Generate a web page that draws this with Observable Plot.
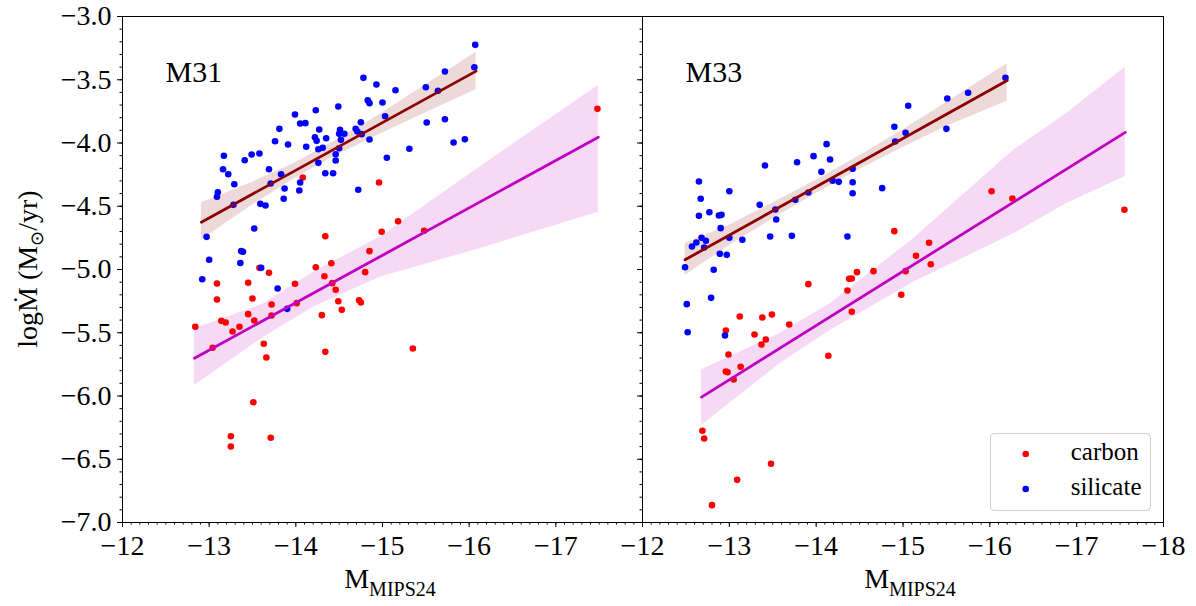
<!DOCTYPE html>
<html>
<head>
<meta charset="utf-8">
<script src="https://cdn.jsdelivr.net/npm/d3@7"></script>
<script src="https://cdn.jsdelivr.net/npm/@observablehq/plot@0.6"></script>
<style>
  body { margin: 0; background: #fff; }
  #chart { position: relative; width: 1196px; height: 606px; }
  #chart svg { position: absolute; left: 0; top: 0; overflow: visible; }
  #chart svg text { font-family: "Liberation Serif", "Times New Roman", serif !important; }
</style>
</head>
<body>
<div id="chart"></div>
<script>
// Mass-loss rate vs. MIPS 24 µm absolute magnitude, [M_MIPS24, log Mdot]
const m31Carbon = [
  [-14.08,-4.273],[-14.96,-4.312],[-14.34,-4.737],[-14.85,-4.855],[-14.41,-4.950],[-14.23,-4.982],
  [-17.48,-3.730],[-15.18,-4.618],[-14.99,-4.702],[-15.48,-4.694],[-13.58,-4.987],[-13.69,-5.026],
  [-14.33,-5.053],[-13.09,-5.111],[-13.45,-5.105],[-13.99,-5.113],[-14.42,-5.108],[-14.46,-5.160],
  [-14.80,-5.021],[-13.09,-5.237],[-13.50,-5.229],[-13.72,-5.277],[-14.49,-5.251],[-14.73,-5.243],
  [-14.75,-5.261],[-14.53,-5.319],[-13.45,-5.353],[-13.72,-5.364],[-14.30,-5.361],[-13.14,-5.406],
  [-13.19,-5.419],[-13.52,-5.403],[-14.01,-5.266],[-12.84,-5.453],[-13.35,-5.453],[-13.27,-5.490],
  [-13.04,-5.619],[-13.63,-5.587],[-13.66,-5.696],[-14.34,-5.651],[-13.51,-6.049],[-13.25,-6.318],
  [-13.25,-6.399],[-13.71,-6.330],[-15.35,-5.625]
];
const m31Silicate = [
  [-14.78,-3.485],[-14.93,-3.538],[-14.83,-3.662],[-14.85,-3.685],[-14.23,-3.741],[-14.49,-3.711],
  [-13.99,-3.775],[-14.05,-3.846],[-14.11,-3.843],[-13.81,-3.888],[-14.27,-3.893],[-14.75,-3.836],
  [-14.69,-3.888],[-14.71,-3.909],[-14.76,-3.930],[-14.51,-3.896],[-14.56,-3.927],[-14.50,-3.927],
  [-14.22,-3.954],[-14.24,-3.983],[-14.35,-3.962],[-14.52,-3.975],[-14.85,-3.972],[-13.76,-3.986],
  [-13.91,-4.012],[-14.12,-4.030],[-14.26,-4.049],[-14.31,-4.038],[-14.50,-4.041],[-14.46,-4.089],
  [-13.17,-4.101],[-13.49,-4.091],[-13.58,-4.083],[-13.41,-4.136],[-14.46,-4.138],[-14.26,-4.157],
  [-13.16,-4.207],[-13.69,-4.207],[-13.22,-4.247],[-14.34,-4.239],[-14.43,-4.239],[-13.83,-4.247],
  [-13.71,-4.320],[-13.29,-4.326],[-14.05,-4.312],[-13.87,-4.360],[-14.04,-4.375],[-14.72,-4.370],
  [-13.10,-4.389],[-13.09,-4.425],[-13.86,-4.441],[-13.28,-4.489],[-13.59,-4.481],[-13.65,-4.494],
  [-13.52,-4.676],[-12.97,-4.742],[-13.37,-4.855],[-13.39,-4.860],[-13.00,-4.923],[-13.36,-4.949],
  [-13.60,-4.987],[-16.07,-3.224],[-16.06,-3.401],[-15.72,-3.435],[-15.15,-3.583],[-15.50,-3.559],
  [-15.64,-3.587],[-15.00,-3.680],[-15.03,-3.788],[-15.51,-3.838],[-15.72,-3.812],[-15.82,-3.996],
  [-15.95,-3.970],[-15.31,-4.046],[-15.05,-4.117],[-12.92,-5.077],[-13.79,-5.150],[-13.90,-5.311]
];
const m33Carbon = [
  [-14.90,-4.697],[-16.02,-4.381],[-16.26,-4.439],[-17.55,-4.528],[-15.30,-4.789],[-15.15,-4.892],
  [-15.32,-4.958],[-12.96,-5.482],[-13.12,-5.372],[-13.38,-5.379],[-13.49,-5.356],[-13.69,-5.435],
  [-13.29,-5.514],[-13.37,-5.593],[-13.42,-5.553],[-13.91,-5.116],[-14.36,-5.166],[-14.38,-5.074],
  [-14.41,-5.071],[-14.47,-5.021],[-14.66,-5.013],[-14.41,-5.334],[-14.14,-5.682],[-12.99,-5.672],
  [-12.96,-5.806],[-12.98,-5.812],[-13.13,-5.769],[-13.05,-5.870],[-14.98,-5.200],[-15.03,-5.013],
  [-12.69,-6.275],[-12.71,-6.336],[-13.48,-6.536],[-13.09,-6.663],[-12.80,-6.863]
];
const m33Silicate = [
  [-15.06,-3.706],[-14.90,-3.872],[-14.91,-3.988],[-15.03,-3.919],[-14.12,-4.009],[-13.97,-4.104],
  [-14.16,-4.130],[-13.78,-4.152],[-13.41,-4.178],[-14.06,-4.228],[-14.42,-4.204],[-14.19,-4.299],
  [-14.26,-4.307],[-14.42,-4.310],[-12.65,-4.304],[-14.42,-4.397],[-14.76,-4.357],[-13.00,-4.381],
  [-13.91,-4.391],[-12.67,-4.441],[-13.76,-4.449],[-13.35,-4.489],[-13.53,-4.526],[-12.77,-4.547],
  [-12.65,-4.576],[-12.88,-4.573],[-12.91,-4.568],[-13.54,-4.605],[-12.90,-4.673],[-12.68,-4.749],
  [-12.73,-4.773],[-12.62,-4.787],[-12.57,-4.818],[-12.71,-4.826],[-13.00,-4.749],[-13.15,-4.765],
  [-13.47,-4.739],[-13.72,-4.734],[-14.36,-4.739],[-12.89,-4.876],[-12.97,-4.884],[-12.49,-4.982],
  [-12.82,-5.002],[-16.18,-3.485],[-15.75,-3.603],[-15.51,-3.648],[-15.50,-3.888],[-12.51,-5.274],
  [-12.79,-5.224],[-12.52,-5.496],[-12.95,-5.522]
];

// Linear fits (end points) and their confidence bands [x, lower, upper]
const m31CarbonFit = [[-12.83,-5.701],[-17.49,-3.954]];
const m31SilicateFit = [[-12.91,-4.626],[-16.08,-3.432]];
const m33CarbonFit = [[-12.68,-6.009],[-17.56,-3.916]];
const m33SilicateFit = [[-12.49,-4.923],[-16.20,-3.506]];

const m31CarbonBand = [
  [-12.83,-5.917,-5.469],[-13.63,-5.535,-5.271],[-14.20,-5.298,-5.021],
  [-14.97,-5.061,-4.745],[-16.12,-4.836,-4.191],[-17.49,-4.547,-3.545]
];
const m31SilicateBand = [
  [-12.91,-4.766,-4.473],[-13.50,-4.490,-4.310],[-14.00,-4.275,-4.155],[-14.50,-4.087,-3.967],
  [-15.00,-3.920,-3.760],[-15.50,-3.760,-3.540],[-16.08,-3.579,-3.282]
];
const m33CarbonBand = [
  [-12.68,-6.233,-5.793],[-13.58,-5.746,-5.508],[-14.16,-5.482,-5.271],[-15.12,-5.100,-4.757],
  [-16.27,-4.720,-4.059],[-16.88,-4.481,-3.769],[-17.56,-4.265,-3.401]
];
const m33SilicateBand = [
  [-12.49,-5.047,-4.797],[-13.00,-4.810,-4.650],[-13.50,-4.600,-4.475],[-14.00,-4.400,-4.295],
  [-14.50,-4.210,-4.100],[-15.00,-4.035,-3.895],[-15.50,-3.870,-3.680],[-16.20,-3.670,-3.374]
];

// Axis ticks
const xTicks = [-12, -13, -14, -15, -16, -17, -18];
const yTicks = [-3, -3.5, -4, -4.5, -5, -5.5, -6, -6.5, -7];
const xMinorTicks = d3.range(0, 61).map(i => -12 - i / 10);
const yMinorTicks = d3.range(0, 41).map(i => -3 - i / 10);

const RED = "#FF0000", BLUE = "#0000FF", FIT_SIL = "#8B0000", FIT_CAR = "#BF00BF";
const FONT = "'Liberation Serif', 'Times New Roman', serif";
const signed = (v, digits) => (v < 0 ? "\u2212" : "") + Math.abs(v).toFixed(digits);
const px = d => d[0], py = d => d[1];

function panel({name, carbon, silicate, carbonFit, silicateFit, carbonBand, silicateBand,
                marginLeft, marginRight, xLabels, showYLabels}) {
  return Plot.plot({
    width: 1196, height: 606,
    marginTop: 16, marginBottom: 84, marginLeft, marginRight,
    style: {background: "transparent", fontFamily: FONT, fontSize: "28px", color: "black"},
    x: {domain: [-12, -18], label: null},
    y: {domain: [-7, -3], label: null},
    marks: [
      Plot.areaY(silicateBand, {x: px, y1: d => d[1], y2: d => d[2], fill: FIT_SIL, fillOpacity: 0.15}),
      Plot.areaY(carbonBand, {x: px, y1: d => d[1], y2: d => d[2], fill: FIT_CAR, fillOpacity: 0.15}),
      Plot.dot(carbon, {x: px, y: py, r: 3.3, fill: RED}),
      Plot.dot(silicate, {x: px, y: py, r: 3.3, fill: BLUE}),
      Plot.line(silicateFit, {x: px, y: py, stroke: FIT_SIL, strokeWidth: 2.8}),
      Plot.line(carbonFit, {x: px, y: py, stroke: FIT_CAR, strokeWidth: 2.8}),
      Plot.frame({stroke: "black", strokeWidth: 1}),
      Plot.axisX(xMinorTicks, {anchor: "bottom", tickSize: 2.5, tickFormat: () => "", label: null}),
      Plot.axisX(xTicks, {anchor: "bottom", tickSize: 5, tickPadding: 8, label: null, fontSize: 28,
        tickFormat: d => xLabels.includes(d) ? signed(d, 0) : ""}),
      Plot.axisY(yMinorTicks, {anchor: "left", tickSize: 2.5, tickFormat: () => "", label: null}),
      Plot.axisY(yTicks, {anchor: "left", tickSize: 5, tickPadding: 6, label: null, fontSize: 28,
        tickFormat: d => showYLabels ? signed(d, 1) : ""}),
      Plot.text([name], {text: d => d, frameAnchor: "top-left", lineAnchor: "top",
        dx: 43, dy: 44, fontSize: 30})
    ]
  });
}

const chart = document.getElementById("chart");

const left = panel({
  name: "M31", carbon: m31Carbon, silicate: m31Silicate,
  carbonFit: m31CarbonFit, silicateFit: m31SilicateFit,
  carbonBand: m31CarbonBand, silicateBand: m31SilicateBand,
  marginLeft: 122, marginRight: 554,
  xLabels: [-12, -13, -14, -15, -16, -17], showYLabels: true
});
const right = panel({
  name: "M33", carbon: m33Carbon, silicate: m33Silicate,
  carbonFit: m33CarbonFit, silicateFit: m33SilicateFit,
  carbonBand: m33CarbonBand, silicateBand: m33SilicateBand,
  marginLeft: 642, marginRight: 33,
  xLabels: xTicks, showYLabels: false
});
chart.appendChild(left);
chart.appendChild(right);

// Text helper: explicit inline styles so nothing inherited from the plot overrides them
function styled(sel, size, anchor) {
  return sel.attr("text-anchor", anchor).attr("fill", "black")
    .style("font-size", size + "px").style("font-family", FONT);
}

// Axis titles with subscript parts
function xTitle(svg, cx) {
  const t = styled(d3.select(svg).append("text").attr("x", cx).attr("y", 588), 28, "middle");
  t.append("tspan").text("M");
  t.append("tspan").style("font-size", "20px").attr("dy", 8).text("MIPS24");
}
xTitle(left, 390);
xTitle(right, 910);

const yt = styled(d3.select(left).append("text")
  .attr("transform", "translate(37,269) rotate(-90)"), 28, "middle");
yt.append("tspan").text("log\u1E40 (M");
yt.append("tspan").style("font-size", "18px").attr("dy", 6).text("\u2299");
yt.append("tspan").attr("dy", -6).text("/yr)");

// Legend
const lg = d3.select(right).append("g");
lg.append("rect").attr("x", 990.5).attr("y", 433.5).attr("width", 160).attr("height", 77)
  .attr("rx", 4).attr("fill", "white").attr("fill-opacity", 0.8)
  .attr("stroke", "#d0d0d0").attr("stroke-width", 1);
[["carbon", RED, 454], ["silicate", BLUE, 489]].forEach(([label, color, y]) => {
  lg.append("circle").attr("cx", 1025.7).attr("cy", y).attr("r", 3.3).attr("fill", color);
  styled(lg.append("text").attr("x", 1070.7).attr("y", y + 6), 25, "start").text(label);
});
</script>
</body>
</html>
